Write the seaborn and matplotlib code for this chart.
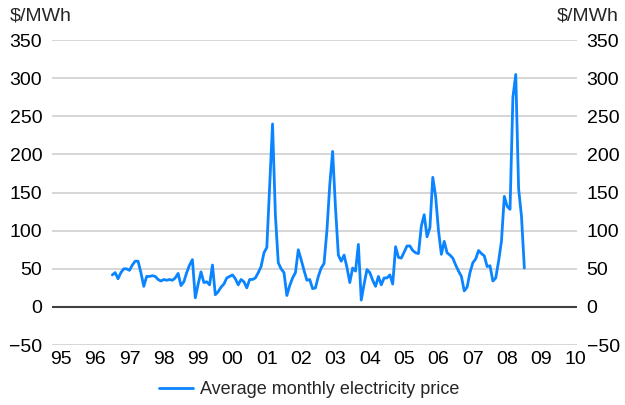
import numpy as np
import pandas as pd
import seaborn as sns
import matplotlib.pyplot as plt

# monthly average price ($/MWh), Jul 1996 onwards
prices = [42, 45, 37, 45, 50, 50, 48, 55, 60, 60,
          45, 27, 40, 40, 41, 40, 36, 34, 36, 35,
          36, 35, 38, 44, 28, 33, 45, 55, 62, 12,
          30, 46, 32, 33, 29, 55, 16, 20, 26, 30,
          38, 40, 42, 37, 29, 36, 33, 25, 36, 36,
          38, 45, 53, 71, 78, 160, 240, 120, 58, 50,
          45, 15, 28, 38, 45, 75, 62, 48, 35, 36,
          24, 25, 40, 51, 57, 100, 160, 204, 130, 68,
          60, 68, 52, 32, 51, 47, 82, 9, 30, 49,
          45, 35, 27, 40, 29, 38, 38, 42, 30, 79,
          65, 64, 72, 80, 80, 74, 71, 70, 106, 121,
          92, 104, 170, 145, 100, 69, 86, 71, 68, 64,
          55, 47, 40, 21, 26, 45, 58, 63, 74, 70,
          67, 53, 54, 34, 38, 60, 86, 145, 132, 128,
          275, 305, 155, 119, 51]
start_month = "1996-07"
years = list(range(1995, 2011))
year_labels = [str(y)[2:] for y in years]
y_ticks = list(range(-50, 351, 50))

dates = pd.date_range(start_month, periods=len(prices), freq="MS")
df = pd.DataFrame({"year": dates.year + (dates.month - 1) / 12.0, "price": prices})

sns.set_style("white")
plt.rcParams["font.family"] = ["Liberation Sans", "DejaVu Sans"]
blue = "#0A84FF"
fs = 14

fig = plt.figure(figsize=(6.25, 4.05), dpi=100)
ax = fig.add_axes([0.083, 0.148, 0.84, 0.753])

for v in y_ticks:
    ax.axhline(v, color="#d0d0d0", lw=1.2, zorder=0)
ax.axhline(0, color="#404040", lw=1.5, zorder=1)

sns.lineplot(data=df, x="year", y="price", ax=ax, color=blue, lw=2.0,
             label="Average monthly electricity price", zorder=3)

ax.set_xlim(1994.74, 2010.03)
ax.set_ylim(-50, 350)
ax.set_xticks(years)
ax.set_xticklabels(year_labels)
ax.set_yticks(y_ticks)
ax.tick_params(axis="both", length=0, labelsize=fs, colors="black")
ax.tick_params(axis="y", labelright=True, pad=7)
ax.tick_params(axis="x", pad=4)
ax.set_xlabel("")
ax.set_ylabel("")
for s in ax.spines.values():
    s.set_visible(False)

fig.text(0.015, 0.96, "$/MWh", fontsize=fs, ha="left", va="center")
fig.text(0.99, 0.96, "$/MWh", fontsize=fs, ha="right", va="center")

ax.legend(loc="upper center", bbox_to_anchor=(0.49, -0.065), frameon=False,
          fontsize=13, handlelength=1.9, handletextpad=0.4)

fig.savefig("out.png", dpi=100)
